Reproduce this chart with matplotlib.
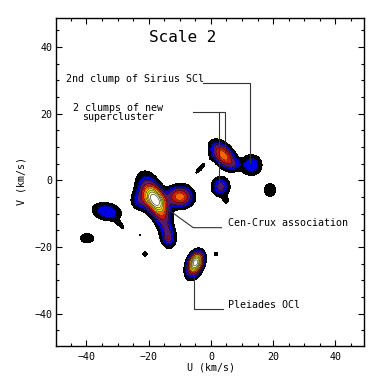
import numpy as np
import matplotlib
matplotlib.use('Agg')
import matplotlib.pyplot as plt
from matplotlib.ticker import MultipleLocator

# clumps in the (U, V) plane: centre, peak height, major/minor width, tilt
comp_u = [-17.8, -19.8, -23.0, -15.6, -13.8, -13.7, -10.0, 4.0, 7.5, 13.0,
          3.1, 4.8, 19.0, -3.4, -33.5, -29.0, -39.8, -21.2, -22.8, 1.6,
          -4.9, -5.8]
comp_v = [-6.0, -3.5, -6.0, -11.0, -16.5, -17.5, -4.9, 7.5, 4.8, 4.6,
          -1.9, -6.0, -2.9, 3.6, -9.4, -13.5, -17.4, -22.1, -16.4, -22.1,
          -24.6, -27.0]
comp_amp = [12.5, 3.3, 2.0, 3.0, 3.0, 1.5, 6.5, 6.5, 1.0, 2.5,
            3.2, 1.0, 0.98, 0.9, 2.6, 0.9, 0.98, 0.86, 0.79, 0.83,
            13.0, 2.0]
comp_sa = [2.7, 3.8, 1.8, 2.4, 2.4, 0.7, 2.5, 2.9, 1.5, 2.2,
           1.8, 1.0, 2.4, 3.2, 3.0, 2.0, 2.9, 1.3, 0.8, 1.2,
           1.9, 2.2]
comp_sb = [1.7, 2.4, 1.8, 1.7, 1.6, 0.7, 1.9, 1.7, 1.0, 2.0,
           1.8, 0.8, 2.6, 0.9, 1.7, 0.7, 1.9, 1.3, 0.8, 1.2,
           1.3, 1.6]
comp_ang = [-55, -68, 0, -75, -80, 0, 0, -45, 0, 0,
            0, -70, 0, 45, -10, -45, 0, 0, 0, 0,
            65, 65]

levels = [0.75, 1.6, 2.6, 4.0, 5.5, 7.5, 9.0, 10.5, 12.5, 100]
fill_colors = ['#000000', '#0000e6', '#5a1a6a', '#c81414', '#ff6400',
               '#ffe600', '#ffff30', '#ffff9a', '#ffffff']

u = np.linspace(-50, 50, 501)
v = np.linspace(-50, 50, 501)
U, V = np.meshgrid(u, v)
Z = np.zeros_like(U)
for i in range(len(comp_u)):
    t = np.radians(comp_ang[i])
    du = U - comp_u[i]
    dv = V - comp_v[i]
    a = du * np.cos(t) + dv * np.sin(t)
    b = -du * np.sin(t) + dv * np.cos(t)
    Z += comp_amp[i] * np.exp(-0.5 * ((a / comp_sa[i]) ** 2 + (b / comp_sb[i]) ** 2))

plt.rcParams['font.family'] = 'DejaVu Sans Mono'
plt.rcParams['font.size'] = 7.2

fig = plt.figure(figsize=(3.82, 3.82), dpi=100)
ax = fig.add_axes([56 / 382, 36 / 382, 308 / 382, 327.7 / 382])

ax.contourf(U, V, Z, levels=levels, colors=fill_colors)
ax.contour(U, V, Z, levels=levels[1:-1], colors='black', linewidths=0.35)

line_col = '#333333'
# Sirius SCl
ax.plot([-2.5, 12.5, 12.5], [29.1, 29.1, 5.1], color=line_col, lw=0.8)
ax.text(-46.6, 30.4, '2nd clump of Sirius SCl', ha='left', va='center')
# new supercluster
ax.plot([-5.7, 4.6, 4.6], [20.4, 20.4, 8.1], color=line_col, lw=0.8)
ax.plot([2.7, 2.7], [20.4, -1.9], color=line_col, lw=0.8)
ax.text(-30, 20.4, '2 clumps of new\nsupercluster', ha='center', va='center',
        linespacing=0.95)
# Cen-Crux
ax.plot([-14.3, -5.7, 3.4], [-8.4, -14.2, -14.2], color=line_col, lw=0.8)
ax.text(5.6, -12.9, 'Cen-Crux association', ha='left', va='center')
# Pleiades
ax.plot([-5.4, -5.4, 3.75], [-28.9, -38.7, -38.7], color=line_col, lw=0.8)
ax.text(5.6, -37.4, 'Pleiades OCl', ha='left', va='center')

ax.text(-9.1, 42.9, 'Scale 2', ha='center', va='center', fontsize=11.5)

ax.set_xlim(-49.8, 49.2)
ax.set_ylim(-49.7, 48.6)
ax.xaxis.set_major_locator(MultipleLocator(20))
ax.xaxis.set_minor_locator(MultipleLocator(5))
ax.yaxis.set_major_locator(MultipleLocator(20))
ax.yaxis.set_minor_locator(MultipleLocator(5))
ax.tick_params(which='both', direction='in', top=True, right=True, width=0.8)
ax.tick_params(which='major', length=4.5)
ax.tick_params(which='minor', length=2.2)
ax.tick_params(axis='x', pad=4.5)
ax.tick_params(axis='y', pad=2.5)
for s in ax.spines.values():
    s.set_linewidth(1.0)

fig.text(211 / 382, 1 - 368 / 382, 'U (km/s)', ha='center', va='center')
fig.text(21.7 / 382, 1 - 181 / 382, 'V (km/s)', ha='center', va='center',
         rotation=90)

fig.savefig('out.png', dpi=100)
